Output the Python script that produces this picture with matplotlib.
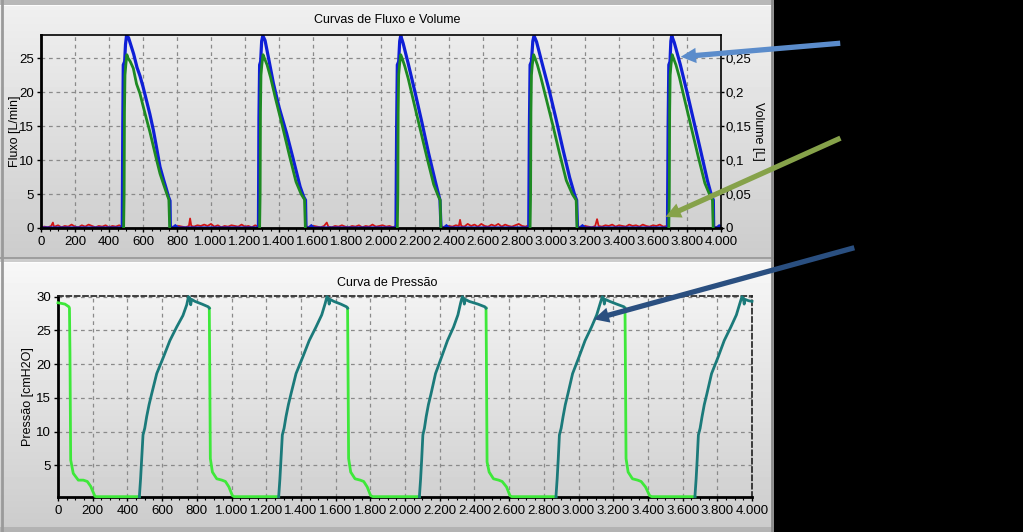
import numpy as np
import matplotlib
matplotlib.use("Agg")
import matplotlib.pyplot as plt
from matplotlib.ticker import FuncFormatter, MultipleLocator
from matplotlib.patches import FancyArrowPatch

plt.rcParams['font.family'] = ['Liberation Sans', 'DejaVu Sans']

# ---------------- data ----------------
# Top chart: flow (blue, L/min) per breath cycle
flow_t1 = [0, 478, 481, 484, 492, 497, 503, 515, 525, 545, 565, 582, 600, 622, 640, 661, 680, 700, 720, 739, 750, 759, 761]
flow_v1 = [0.0, 0.0, 15, 24, 24.5, 27, 28.3, 28.0, 27.2, 25.6, 23.6, 22.4, 20.8, 18.6, 16.8, 14.4, 11.8, 9.0, 7.2, 5.6, 4.6, 4.0, 0.0]
flow_t2 = [775, 790, 805, 1279, 1282, 1286, 1292, 1298, 1305, 1318, 1340, 1367, 1400, 1445, 1480, 1524, 1545, 1556, 1559]
flow_v2 = [0.0, 0.3, 0.0, 0.0, 16, 24, 24.5, 27.5, 28.3, 27.6, 24.8, 21.3, 17.8, 13.9, 10.5, 6.1, 4.6, 4.1, 0.0]
flow_t3 = [1575, 1590, 1605, 2088, 2092, 2096, 2104, 2110, 2116, 2130, 2160, 2200, 2240, 2280, 2320, 2347, 2353]
flow_v3 = [0.0, 0.3, 0.0, 0.0, 15, 24, 24.5, 27.5, 28.3, 27.2, 24.2, 20.0, 15.6, 11.0, 6.8, 4.1, 0.0]
flow_t4 = [2370, 2385, 2400, 2869, 2873, 2877, 2885, 2893, 2900, 2915, 2950, 2990, 3030, 3070, 3110, 3140, 3151, 3156]
flow_v4 = [0.0, 0.3, 0.0, 0.0, 15, 24, 24.5, 27.5, 28.3, 27.4, 24.0, 20.2, 16.0, 11.6, 7.4, 4.8, 4.1, 0.0]
flow_t5 = [3170, 3185, 3200, 3685, 3689, 3693, 3700, 3705, 3710, 3725, 3760, 3800, 3840, 3880, 3920, 3945, 3955, 3957, 3975, 3990, 4000]
flow_v5 = [0.0, 0.3, 0.0, 0.0, 15, 24, 24.5, 27.5, 28.3, 27.3, 24.1, 20.0, 15.7, 11.4, 7.0, 4.7, 4.1, 0.0, 0.0, 0.3, 0.2]

# Top chart: volume (green, L) per breath cycle
vol_t1 = [486, 489, 491, 494, 499, 505, 512, 525, 543, 562, 582, 600, 622, 640, 661, 680, 700, 720, 739, 752, 757]
vol_v1 = [0.0, 0.05, 0.17, 0.225, 0.24, 0.255, 0.25, 0.245, 0.235, 0.212, 0.198, 0.180, 0.159, 0.142, 0.120, 0.100, 0.080, 0.065, 0.051, 0.042, 0.0]
vol_t2 = [1286, 1289, 1291, 1294, 1299, 1306, 1314, 1330, 1350, 1380, 1420, 1460, 1500, 1530, 1550, 1555]
vol_v2 = [0.0, 0.05, 0.17, 0.225, 0.24, 0.255, 0.25, 0.24, 0.222, 0.190, 0.150, 0.108, 0.068, 0.050, 0.042, 0.0]
vol_t3 = [2096, 2099, 2101, 2104, 2109, 2116, 2124, 2140, 2160, 2190, 2230, 2270, 2310, 2335, 2348, 2352]
vol_v3 = [0.0, 0.05, 0.17, 0.225, 0.24, 0.255, 0.25, 0.238, 0.220, 0.188, 0.146, 0.104, 0.064, 0.048, 0.041, 0.0]
vol_t4 = [2877, 2880, 2882, 2885, 2890, 2898, 2906, 2920, 2940, 2970, 3010, 3050, 3090, 3125, 3148, 3153]
vol_v4 = [0.0, 0.05, 0.17, 0.225, 0.24, 0.255, 0.25, 0.240, 0.222, 0.192, 0.152, 0.110, 0.070, 0.050, 0.041, 0.0]
vol_t5 = [3693, 3696, 3698, 3701, 3706, 3713, 3720, 3735, 3755, 3785, 3825, 3865, 3905, 3935, 3950, 3954]
vol_v5 = [0.0, 0.05, 0.17, 0.225, 0.24, 0.255, 0.25, 0.240, 0.222, 0.190, 0.148, 0.106, 0.066, 0.048, 0.041, 0.0]

# Top chart: baseline flow noise (red) between breaths
noise_t = [0, 20, 40, 60, 70, 75, 80, 100, 120, 140, 160, 180, 200, 220, 240, 260, 280, 300, 320, 340, 360, 380, 400, 420, 440, 460, 476,
           None,
           770, 790, 810, 830, 850, 870, 877, 884, 900, 920, 940, 960, 980, 1000, 1020, 1040, 1060, 1080, 1100, 1120, 1140, 1160, 1180, 1200, 1220, 1240, 1260, 1278,
           None,
           1565, 1585, 1605, 1625, 1645, 1665, 1681, 1690, 1710, 1730, 1750, 1770, 1790, 1810, 1830, 1850, 1870, 1890, 1910, 1930, 1950, 1970, 1990, 2010, 2030, 2050, 2070, 2087,
           None,
           2360, 2380, 2400, 2420, 2440, 2458, 2465, 2472, 2490, 2510, 2530, 2550, 2570, 2590, 2610, 2630, 2650, 2670, 2690, 2710, 2730, 2750, 2770, 2790, 2810, 2830, 2850, 2868,
           None,
           3162, 3180, 3200, 3220, 3240, 3260, 3271, 3280, 3300, 3320, 3340, 3360, 3380, 3400, 3420, 3440, 3460, 3480, 3500, 3520, 3540, 3560, 3580, 3600, 3620, 3640, 3660, 3684,
           None,
           3962, 3980, 4000]
noise_v = [0.1, 0.2, 0.1, 0.3, 0.8, 0.3, 0.2, 0.4, 0.1, 0.3, 0.2, 0.5, 0.2, 0.1, 0.4, 0.2, 0.5, 0.3, 0.1, 0.3, 0.2, 0.4, 0.1, 0.3, 0.2, 0.4, 0.2,
           None,
           0.2, 0.1, 0.3, 0.2, 0.1, 0.3, 1.4, 0.3, 0.2, 0.4, 0.3, 0.5, 0.3, 0.6, 0.2, 0.4, 0.1, 0.3, 0.2, 0.4, 0.3, 0.2, 0.5, 0.2, 0.3, 0.1, 0.4, 0.2,
           None,
           0.2, 0.1, 0.3, 0.2, 0.1, 0.3, 0.8, 0.2, 0.1, 0.3, 0.2, 0.4, 0.2, 0.1, 0.3, 0.2, 0.4, 0.1, 0.3, 0.2, 0.5, 0.2, 0.3, 0.4, 0.2, 0.3, 0.1, 0.3,
           None,
           0.2, 0.1, 0.3, 0.2, 0.4, 0.3, 1.2, 0.3, 0.2, 0.6, 0.3, 0.5, 0.2, 0.6, 0.3, 0.2, 0.5, 0.3, 0.6, 0.2, 0.5, 0.3, 0.2, 0.4, 0.6, 0.3, 0.2, 0.4,
           None,
           0.2, 0.1, 0.3, 0.2, 0.1, 0.3, 1.3, 0.3, 0.2, 0.4, 0.3, 0.5, 0.2, 0.4, 0.3, 0.2, 0.5, 0.3, 0.4, 0.2, 0.5, 0.3, 0.2, 0.4, 0.3, 0.5, 0.2, 0.3,
           None,
           0.1, 0.2, 0.1]

# Bottom chart: pressure, inspiration segments (teal)
insp_t1 = [469, 476, 482, 490, 500, 511, 525, 540, 569, 607, 645, 684, 720, 742, 752, 760, 765, 770, 790, 830, 866, 872]
insp_v1 = [0.35, 3.0, 5.8, 9.5, 10.5, 12.2, 14.0, 15.6, 18.6, 21.0, 23.5, 25.5, 27.2, 28.8, 30.0, 29.8, 28.8, 29.6, 29.3, 28.9, 28.5, 28.3]
insp_t2 = [1272, 1279, 1285, 1293, 1303, 1314, 1328, 1343, 1372, 1410, 1448, 1487, 1520, 1540, 1550, 1558, 1563, 1568, 1590, 1630, 1663, 1669]
insp_v2 = [0.35, 3.0, 5.8, 9.5, 10.5, 12.2, 14.0, 15.6, 18.6, 21.0, 23.5, 25.5, 27.3, 29.0, 30.0, 29.8, 28.9, 29.6, 29.3, 28.9, 28.5, 28.3]
insp_t3 = [2083, 2090, 2096, 2103, 2112, 2122, 2135, 2150, 2176, 2210, 2245, 2280, 2305, 2320, 2330, 2337, 2342, 2347, 2370, 2420, 2460, 2467]
insp_v3 = [0.35, 3.0, 5.8, 9.5, 10.5, 12.2, 14.0, 15.6, 18.6, 21.0, 23.5, 25.5, 27.3, 29.0, 30.0, 29.8, 28.9, 29.6, 29.3, 28.9, 28.5, 28.3]
insp_t4 = [2870, 2877, 2883, 2890, 2900, 2911, 2924, 2939, 2966, 3002, 3038, 3075, 3105, 3125, 3137, 3144, 3149, 3154, 3180, 3220, 3262, 3268]
insp_v4 = [0.35, 3.0, 5.8, 9.5, 10.5, 12.2, 14.0, 15.6, 18.6, 21.0, 23.5, 25.5, 27.3, 29.0, 30.0, 29.8, 28.9, 29.6, 29.3, 28.9, 28.5, 28.3]
insp_t5 = [3671, 3678, 3684, 3691, 3701, 3712, 3725, 3740, 3767, 3804, 3840, 3878, 3910, 3930, 3942, 3950, 3955, 3960, 3980, 4000]
insp_v5 = [0.35, 3.0, 5.8, 9.5, 10.5, 12.2, 14.0, 15.6, 18.6, 21.0, 23.5, 25.5, 27.3, 29.0, 30.0, 29.8, 28.9, 29.6, 29.4, 29.3]

# Bottom chart: pressure, expiration segments (light green)
exp_t0 = [0, 40, 63, 66, 69, 73, 88, 117, 146, 169, 188, 213, 222, 469]
exp_v0 = [29.1, 28.9, 28.5, 28.3, 21.5, 5.8, 3.8, 2.8, 2.8, 2.6, 1.9, 0.4, 0.35, 0.35]
exp_t1 = [872, 874, 878, 890, 915, 945, 965, 985, 1005, 1015, 1272]
exp_v1 = [28.3, 21.5, 6.0, 4.0, 3.0, 2.8, 2.6, 1.8, 0.5, 0.35, 0.35]
exp_t2 = [1669, 1671, 1675, 1687, 1712, 1742, 1762, 1782, 1802, 1815, 2083]
exp_v2 = [28.3, 21.5, 6.0, 4.0, 3.0, 2.8, 2.6, 1.8, 0.5, 0.35, 0.35]
exp_t3 = [2467, 2469, 2473, 2485, 2510, 2540, 2560, 2585, 2605, 2615, 2870]
exp_v3 = [28.3, 21.5, 5.5, 4.0, 3.0, 2.8, 2.6, 1.8, 0.5, 0.35, 0.35]
exp_t4 = [3268, 3270, 3274, 3286, 3311, 3341, 3361, 3386, 3410, 3422, 3671]
exp_v4 = [28.3, 21.5, 6.0, 4.0, 3.0, 2.8, 2.6, 1.8, 0.5, 0.35, 0.35]

x_ticks = [0, 200, 400, 600, 800, 1000, 1200, 1400, 1600, 1800, 2000, 2200, 2400, 2600, 2800, 3000, 3200, 3400, 3600, 3800, 4000]
flow_ticks = [0, 5, 10, 15, 20, 25]
vol_ticks = [0, 0.05, 0.1, 0.15, 0.2, 0.25]
press_ticks = [5, 10, 15, 20, 25, 30]

# ---------------- figure ----------------
W, H = 1023, 532
fig = plt.figure(figsize=(W / 100, H / 100), dpi=100, facecolor='black')

def fx(px):
    return px / W

def fy(py):
    return 1 - py / H

# panel background (gradient)
PW = 774
bg = fig.add_axes([0, 0, fx(PW), 1])
bg.set_axis_off()
img = np.zeros((H, 1))
img[:] = 0.72
img[5:257, 0] = np.linspace(0.94, 0.80, 252)
img[257:259, 0] = 0.62
img[259:262, 0] = 0.80
img[262:527, 0] = np.linspace(0.97, 0.80, 265)
img[527:, 0] = 0.70
img[5, 0] = 0.99
img[262, 0] = 0.99
bg.imshow(img, cmap='gray', vmin=0, vmax=1, aspect='auto', extent=[0, 1, 0, 1], interpolation='nearest')
bg.plot([0.003, 0.003], [0, 1], color='#9a9a9a', lw=2, transform=bg.transAxes)
bg.plot([0.997, 0.997], [0, 1], color='#8a8a8a', lw=2, transform=bg.transAxes)
bg.set_xlim(0, 1)
bg.set_ylim(0, 1)

def xfmt(v, pos):
    return f"{int(round(v)):,}".replace(',', '.')

def volfmt(v, pos):
    return ('%g' % round(v, 3)).replace('.', ',')

tick_font = 9.5
grid_kw = dict(color='#8a8a8a', linestyle=(0, (3, 3)), linewidth=0.9)

# ---- top axes ----
ax1 = fig.add_axes([fx(41), fy(228), fx(680), (228 - 35) / H])
ax1.patch.set_alpha(0)
ax1.set_xlim(0, 4000)
ax1.set_ylim(0, 28.4)
ax1.set_xticks(x_ticks)
ax1.xaxis.set_minor_locator(MultipleLocator(50))
ax1.set_yticks(flow_ticks)
ax1.xaxis.set_major_formatter(FuncFormatter(xfmt))
ax1.grid(True, **grid_kw)
ax1.set_axisbelow(True)
ax1.tick_params(axis='both', labelsize=tick_font, length=3, width=1, pad=2, colors='black')
ax1.tick_params(axis='x', pad=3)
ax1.tick_params(axis='x', which='minor', length=2, width=0.8)
for s in ax1.spines.values():
    s.set_color('black')
    s.set_linewidth(1.2)
ax1.spines['left'].set_linewidth(2)
ax1.spines['bottom'].set_linewidth(2)
ax1.set_ylabel('Fluxo [L/min]', fontsize=9, va='center')
ax1.yaxis.set_label_coords((15 - 41) / 680, 0.5)

ax1.plot(noise_t, noise_v, color='#d01515', lw=1.3, zorder=2)
for t, v in [(flow_t1, flow_v1), (flow_t2, flow_v2), (flow_t3, flow_v3), (flow_t4, flow_v4), (flow_t5, flow_v5)]:
    ax1.plot(t, v, color='#0f1fd6', lw=2.3, zorder=2.2, solid_joinstyle='miter')

ax2 = ax1.twinx()
ax2.set_ylim(0, 0.284)
ax2.set_yticks(vol_ticks)
ax2.yaxis.set_major_formatter(FuncFormatter(volfmt))
ax2.tick_params(axis='y', labelsize=tick_font, length=2, width=1, pad=1)
for s in ax2.spines.values():
    s.set_visible(False)
ax2.set_ylabel('Volume [L]', fontsize=9, rotation=270, va='center')
ax2.yaxis.set_label_coords((758 - 41) / 680, 0.5)
for t, v in [(vol_t1, vol_v1), (vol_t2, vol_v2), (vol_t3, vol_v3), (vol_t4, vol_v4), (vol_t5, vol_v5)]:
    ax2.plot(t, v, color='#1e8a22', lw=2.0, zorder=4)

fig.text(fx(387), fy(20), 'Curvas de Fluxo e Volume', ha='center', va='center', fontsize=9)

# ---- bottom axes ----
ax3 = fig.add_axes([fx(58), fy(497), fx(694), (497 - 296) / H])
ax3.patch.set_alpha(0)
ax3.set_xlim(0, 4000)
ax3.set_ylim(0.3, 30.1)
ax3.set_xticks(x_ticks)
ax3.xaxis.set_minor_locator(MultipleLocator(50))
ax3.set_yticks(press_ticks)
ax3.xaxis.set_major_formatter(FuncFormatter(xfmt))
ax3.grid(True, **grid_kw)
ax3.set_axisbelow(True)
ax3.tick_params(axis='both', labelsize=tick_font, length=3, width=1, pad=2)
ax3.tick_params(axis='x', pad=3)
ax3.tick_params(axis='x', which='minor', length=2, width=0.8)
ax3.spines['left'].set_linewidth(2)
ax3.spines['bottom'].set_linewidth(2)
for side in ('top', 'right'):
    ax3.spines[side].set_linestyle((0, (3, 2)))
    ax3.spines[side].set_linewidth(1.2)
    ax3.spines[side].set_color('#202020')
ax3.set_ylabel('Pressão [cmH2O]', fontsize=9, va='center')
ax3.yaxis.set_label_coords((28 - 58) / 694, 0.5)

for t, v in [(exp_t0, exp_v0), (exp_t1, exp_v1), (exp_t2, exp_v2), (exp_t3, exp_v3), (exp_t4, exp_v4)]:
    ax3.plot(t, v, color='#3ee83a', lw=2.0, zorder=3, clip_on=False)
for t, v in [(insp_t1, insp_v1), (insp_t2, insp_v2), (insp_t3, insp_v3), (insp_t4, insp_v4), (insp_t5, insp_v5)]:
    ax3.plot(t, v, color='#1b7a7a', lw=2.0, zorder=3, clip_on=False)

fig.text(fx(387), fy(283), 'Curva de Pressão', ha='center', va='center', fontsize=9)

# ---- annotation arrows ----
arrows = [((843, 43), (678, 57), '#5b8ccb'),
          ((843, 137), (663, 218), '#86a24a'),
          ((857, 247), (591, 320), '#2a4f80')]
for (x0, y0), (x1, y1), c in arrows:
    fig.add_artist(FancyArrowPatch((fx(x0), fy(y0)), (fx(x1), fy(y1)), transform=fig.transFigure,
                                   arrowstyle='simple,head_length=1.1,head_width=1.1,tail_width=0.38',
                                   mutation_scale=10, color=c, lw=0, zorder=10))

fig.savefig('out.png', dpi=100, facecolor='black')
